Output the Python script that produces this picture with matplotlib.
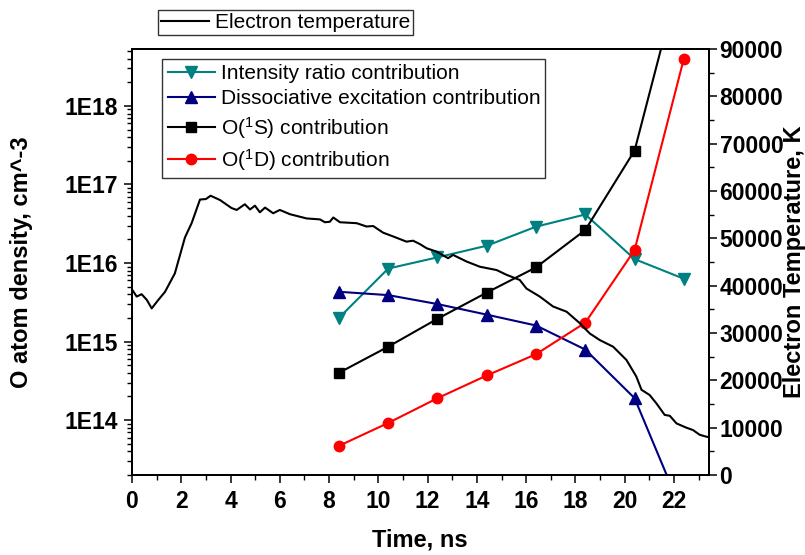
import matplotlib
matplotlib.use("Agg")
import matplotlib.pyplot as plt
from matplotlib.ticker import FixedLocator, FuncFormatter, LogLocator, NullFormatter, MultipleLocator
import numpy as np

plt.rcParams['font.family'] = ['Liberation Sans', 'DejaVu Sans']
plt.rcParams['mathtext.default'] = 'regular'

# ---------------- data ----------------
t_points = [8.4, 10.4, 12.4, 14.4, 16.4, 18.4, 20.4, 22.4]
intensity_ratio = [2.0e15, 8.5e15, 1.18e16, 1.66e16, 2.9e16, 4.15e16, 1.12e16, 6.3e15]
dissociative = [4.3e15, 3.9e15, 3.0e15, 2.2e15, 1.6e15, 7.9e14, 1.9e14, 6e12]
o1s = [4.0e14, 8.6e14, 1.95e15, 4.2e15, 8.8e15, 2.63e16, 2.7e17, 7e19]
o1d = [4.7e13, 9.2e13, 1.9e14, 3.7e14, 6.9e14, 1.74e15, 1.46e16, 4.0e18]

te_time = [0.0, 0.19, 0.39, 0.60, 0.80, 1.07, 1.34, 1.74, 2.15, 2.42, 2.76, 3.00,
           3.19, 3.57, 4.04, 4.25, 4.58, 4.79, 4.99, 5.19, 5.40, 5.73, 6.00, 6.41,
           7.09, 7.63, 7.83, 8.03, 8.17, 8.44, 9.12, 9.52, 9.79, 10.19, 10.60, 11.14,
           11.41, 11.68, 11.96, 12.36, 12.83, 13.03, 13.58, 14.12, 14.80, 15.20, 15.74,
           16.01, 16.55, 17.09, 17.64, 18.17, 18.58, 18.99, 19.53, 20.07, 20.47, 20.68,
           21.01, 21.29, 21.62, 21.83, 22.10, 22.50, 22.77, 23.04, 23.31, 23.4]
te_values = [39200, 37700, 38200, 37000, 35200, 37000, 38700, 42600, 50200, 53200, 58200, 58300,
             59000, 58100, 56400, 56000, 57200, 56100, 56900, 55500, 56500, 55300, 56000, 55100,
             54200, 54000, 53400, 53500, 54400, 53400, 53200, 52500, 52600, 51200, 50400, 49300,
             49500, 48800, 47900, 47200, 45800, 46500, 45100, 44000, 43300, 42300, 41200,
             39400, 37700, 35600, 34500, 32100, 29900, 28500, 27100, 24300, 20800, 18000,
             16900, 15100, 12700, 12500, 10900, 10000, 9500, 8500, 8100, 8000]

x_ticks = [0, 2, 4, 6, 8, 10, 12, 14, 16, 18, 20, 22]
left_ticks = [1e14, 1e15, 1e16, 1e17, 1e18]
right_ticks = [0, 10000, 20000, 30000, 40000, 50000, 60000, 70000, 80000, 90000]

# ---------------- figure ----------------
fig = plt.figure(figsize=(8.05, 5.55), dpi=100)
ax = fig.add_axes([132/805, 80/555, 576.5/805, 426/555])
ax2 = ax.twinx()

lw = 1.5
h1, = ax.plot(t_points, intensity_ratio, color='#008080', marker='v', ms=8, lw=lw,
              label='Intensity ratio contribution')
h2, = ax.plot(t_points, dissociative, color='#000080', marker='^', ms=8, lw=lw,
              label='Dissociative excitation contribution')
h3, = ax.plot(t_points, o1s, color='black', marker='s', ms=6.5, lw=lw,
              label='O($^{1}$S) contribution')
h4, = ax.plot(t_points, o1d, color='#ff0000', marker='o', ms=7.5, lw=lw,
              label='O($^{1}$D) contribution')

ht, = ax2.plot(te_time, te_values, color='black', lw=1.5, label='Electron temperature')

ax.set_yscale('log')
ax.set_ylim(2.0e13, 5.3e18)
ax.set_xlim(0, 23.4)
ax2.set_ylim(0, 90000)

# ticks
ax.xaxis.set_major_locator(FixedLocator(x_ticks))
ax.xaxis.set_minor_locator(MultipleLocator(1))
ax.yaxis.set_major_locator(FixedLocator(left_ticks))
ax.yaxis.set_minor_locator(LogLocator(base=10, subs=np.arange(2, 10)))
ax.yaxis.set_minor_formatter(NullFormatter())
ax.yaxis.set_major_formatter(FuncFormatter(lambda v, p: '1E%d' % int(round(np.log10(v)))))
ax2.yaxis.set_major_locator(FixedLocator(right_ticks))
ax2.yaxis.set_minor_locator(MultipleLocator(5000))

for a in (ax, ax2):
    a.tick_params(which='major', direction='out', length=6, width=1.1, labelsize=16.5)
    a.tick_params(which='minor', direction='out', length=3.3, width=1.0)
    for s in a.spines.values():
        s.set_linewidth(1.4)
ax.tick_params(axis='y', which='both', right=False, pad=4)
ax.tick_params(axis='x', which='both', top=False, pad=5)
ax2.tick_params(axis='y', which='both', left=False, right=True, pad=2)

for lab in ax.get_xticklabels() + ax.get_yticklabels() + ax2.get_yticklabels():
    lab.set_fontweight('bold')

ax.set_xlabel('Time, ns', fontsize=17, fontweight='bold')
ax.xaxis.set_label_coords(0.5, -0.125)
ax.set_ylabel('O atom density, cm^-3', fontsize=17, fontweight='bold')
ax.yaxis.set_label_coords(-0.172, 0.5)
ax2.set_ylabel('Electron Temperature, K', fontsize=17, fontweight='bold')
ax2.yaxis.set_label_coords(1.129, 0.5)

leg2 = ax.legend(handles=[h1, h2, h3, h4], loc='upper left',
                 bbox_to_anchor=(162.3/805, 1 - 59/555), bbox_transform=fig.transFigure,
                 fontsize=15, frameon=True, fancybox=False, edgecolor='black',
                 handlelength=2.3, handletextpad=0.25, borderpad=0.25, labelspacing=0.3,
                 borderaxespad=0)
leg2.get_frame().set_linewidth(1.0)

leg1 = fig.legend(handles=[ht], loc='upper left',
                  bbox_to_anchor=(157.7/805, 1 - 10/555),
                  fontsize=15, frameon=True, fancybox=False, edgecolor='black',
                  handlelength=2.3, handletextpad=0.3, borderpad=0.15, borderaxespad=0)
leg1.get_frame().set_linewidth(1.0)

fig.savefig('out.png', dpi=100)
